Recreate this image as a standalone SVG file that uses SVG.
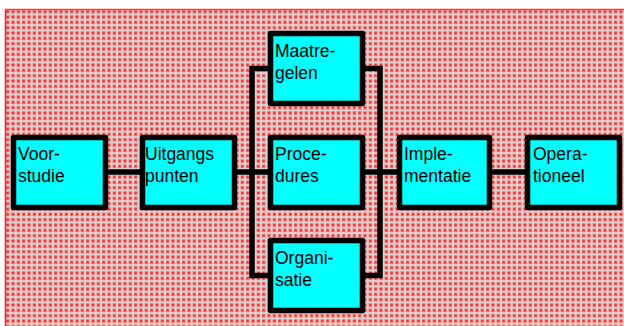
<svg xmlns="http://www.w3.org/2000/svg" width="624" height="326" viewBox="0 0 624 326">
  <defs>
    <pattern id="dots" x="5" y="9" width="5.333" height="5.333" patternUnits="userSpaceOnUse">
      <rect width="5.333" height="5.333" fill="#dad2d2"/>
      <rect x="0.9" y="0.9" width="3.6" height="3.6" fill="#f28080"/>
      <rect x="1.7" y="1.7" width="2" height="2" fill="#ff2020"/>
    </pattern>
    <style>
      .box { fill: #00ffff; stroke: #000; stroke-width: 5.5; stroke-linejoin: round; }
      .wire { fill: none; stroke: #000; stroke-width: 5.5; stroke-linejoin: miter; }
      .lbl { font-family: "Liberation Sans", Arial, sans-serif; font-size: 17.5px; fill: #000; }
    </style>
  </defs>

  <!-- dotted backdrop -->
  <rect x="5" y="9" width="619" height="317" fill="url(#dots)"/>
  <line x1="5.5" y1="9" x2="5.5" y2="326" stroke="#ff1a1a" stroke-width="1.5"/>
  <line x1="5" y1="9.5" x2="624" y2="9.5" stroke="#ff3a3a" stroke-width="1.5"/>

  <!-- connectors -->
  <g id="connectors">
    <line class="wire" x1="108" y1="172" x2="140" y2="172"/>
    <line class="wire" x1="237" y1="172" x2="268" y2="172"/>
    <polyline class="wire" points="268,68.5 252,68.5 252,275.5 268,275.5"/>
    <polyline class="wire" points="365,68.5 380,68.5 380,275.5 365,275.5"/>
    <line class="wire" x1="365" y1="172" x2="397" y2="172"/>
    <line class="wire" x1="492" y1="172" x2="525" y2="172"/>
  </g>

  <g id="voorstudie">
    <rect class="box" x="13.5" y="137.5" width="92" height="70"/>
    <text class="lbl" x="18" y="159.5">Voor-</text>
    <text class="lbl" x="18" y="181.5">studie</text>
  </g>
  <g id="uitgangspunten">
    <rect class="box" x="142.5" y="137.5" width="92" height="70"/>
    <text class="lbl" x="145" y="159.5">Uitgangs</text>
    <text class="lbl" x="145" y="181.5">punten</text>
  </g>
  <g id="maatregelen">
    <rect class="box" x="270.5" y="33.5" width="92" height="70"/>
    <text class="lbl" x="275" y="56.5">Maatre-</text>
    <text class="lbl" x="275" y="78.5">gelen</text>
  </g>
  <g id="procedures">
    <rect class="box" x="270.5" y="137.5" width="92" height="70"/>
    <text class="lbl" x="275" y="159.5">Proce-</text>
    <text class="lbl" x="275" y="181.5">dures</text>
  </g>
  <g id="organisatie">
    <rect class="box" x="270.5" y="240.5" width="92" height="70"/>
    <text class="lbl" x="275" y="263.5">Organi-</text>
    <text class="lbl" x="275" y="285.5">satie</text>
  </g>
  <g id="implementatie">
    <rect class="box" x="399.5" y="137.5" width="90" height="70"/>
    <text class="lbl" x="404" y="159.5">Imple-</text>
    <text class="lbl" x="404" y="181.5">mentatie</text>
  </g>
  <g id="operationeel">
    <rect class="box" x="527.5" y="137.5" width="92" height="70"/>
    <text class="lbl" x="533" y="159.5">Opera-</text>
    <text class="lbl" x="533" y="181.5">tioneel</text>
  </g>
</svg>
